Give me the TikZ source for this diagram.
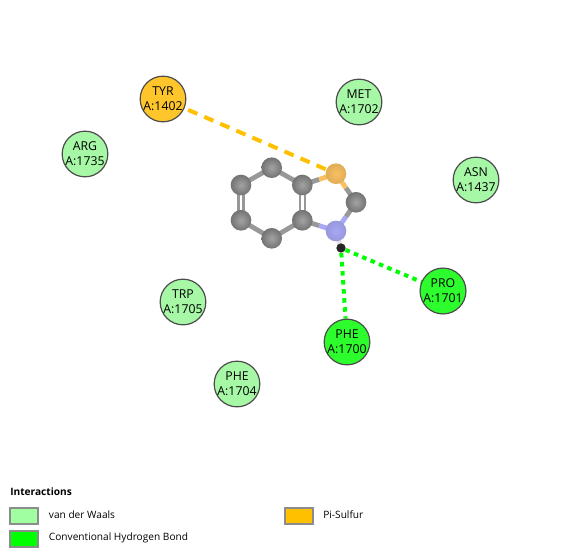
\documentclass[tikz,border=0pt]{standalone}
\usepackage{fontspec}
\setmainfont{Open Sans}
\usetikzlibrary{calc}
\pgfdeclarelayer{bonds}
\pgfsetlayers{bonds,main}
\definecolor{vdw}{HTML}{A6F7A6}
\definecolor{hbond}{HTML}{2DFC2D}
\definecolor{pis}{HTML}{FFC62C}
\definecolor{legvdw}{HTML}{A0FFA0}
\definecolor{leghb}{HTML}{00FF00}
\definecolor{legpi}{HTML}{FFC000}
\definecolor{bondgray}{HTML}{989898}
\definecolor{sulfur}{HTML}{F8C060}
\definecolor{nitro}{HTML}{A8A8F4}
\tikzset{
  x=0.75pt,y=-0.75pt,
  res/.style={circle,draw=black!70,line width=0.9pt,minimum size=33.5pt,inner sep=0pt,align=center,font=\fontsize{9.2}{11.2}\selectfont,text=black},
  atomc/.style={circle,minimum size=15.5pt,inner sep=0pt,inner color=black!36,outer color=black!55},
  atoms/.style={circle,minimum size=15.5pt,inner sep=0pt,inner color=sulfur,outer color=sulfur!90!black},
  atomn/.style={circle,minimum size=15.5pt,inner sep=0pt,inner color=nitro,outer color=nitro!90!black},
  atomh/.style={circle,minimum size=7pt,inner sep=0pt,fill=black!85},
  bondl/.style={line width=3.6pt,draw=bondgray},
  dbl/.style={line width=1.7pt,draw=bondgray},
  dashpi/.style={line width=3pt,draw=legpi,dash pattern=on 7.5pt off 5.6pt},
  dashhb/.style={line width=3pt,draw=leghb,dash pattern=on 3.4pt off 3.4pt},
  swatch/.style={draw=black!45,line width=1.6pt,minimum width=21pt,minimum height=12.4pt,inner sep=0pt},
  legtext/.style={anchor=west,inner sep=0pt,font=\fontsize{7.6}{9}\selectfont},
}
\begin{document}
\begin{tikzpicture}
\useasboundingbox (0,0) rectangle (563,557);
% residues
\node[res,fill=pis] (tyr) at (163,99) {TYR\\A:1402};
\node[res,fill=vdw] (met) at (359,102) {MET\\A:1702};
\node[res,fill=vdw] (arg) at (85,154) {ARG\\A:1735};
\node[res,fill=vdw] (asn) at (476,180) {ASN\\A:1437};
\node[res,fill=vdw] (trp) at (183,302) {TRP\\A:1705};
\node[res,fill=hbond] (phea) at (347,342) {PHE\\A:1700};
\node[res,fill=hbond] (pro) at (443,291) {PRO\\A:1701};
\node[res,fill=vdw] (pheb) at (237,384) {PHE\\A:1704};
% ligand atoms
\node[atomc] (c1) at (271.7,167.7) {};
\node[atomc] (c2) at (241,185) {};
\node[atomc] (c3) at (241,220.3) {};
\node[atomc] (c4) at (271.7,238.3) {};
\node[atomc] (c5) at (302.3,220.3) {};
\node[atomc] (c6) at (302.3,185) {};
\node[atoms] (s) at (336,173.7) {};
\node[atomc] (c7) at (356,202.3) {};
\node[atomn] (n) at (336,231) {};
\node[atomh] (h) at (341,248) {};
\begin{pgfonlayer}{bonds}
  % interactions
  \draw[dashpi,shorten <=3pt] (tyr) -- (s);
  \draw[dashhb] (h) -- (phea);
  \draw[dashhb] (h) -- (pro);
  % bonds
  \draw[bondl] (c1.center) -- (c2.center);
  \draw[bondl] (c3.center) -- (c4.center);
  \draw[bondl] (c4.center) -- (c5.center);
  \draw[bondl] (c6.center) -- (c1.center);
  \draw[dbl] ($(c2.center)+(-2.4,0)$) -- ($(c3.center)+(-2.4,0)$);
  \draw[dbl] ($(c2.center)+(2.4,0)$) -- ($(c3.center)+(2.4,0)$);
  \draw[dbl] ($(c5.center)+(-2.4,0)$) -- ($(c6.center)+(-2.4,0)$);
  \draw[dbl] ($(c5.center)+(2.4,0)$) -- ($(c6.center)+(2.4,0)$);
  \draw[bondl] (c6.center) -- ($(c6.center)!.5!(s.center)$);
  \draw[bondl,draw=sulfur] ($(c6.center)!.5!(s.center)$) -- (s.center);
  \draw[bondl,draw=sulfur] (s.center) -- ($(s.center)!.5!(c7.center)$);
  \draw[bondl] ($(s.center)!.5!(c7.center)$) -- (c7.center);
  \draw[bondl] (c7.center) -- ($(c7.center)!.5!(n.center)$);
  \draw[bondl,draw=nitro] ($(c7.center)!.5!(n.center)$) -- (n.center);
  \draw[bondl,draw=nitro] (n.center) -- ($(n.center)!.5!(c5.center)$);
  \draw[bondl] ($(n.center)!.5!(c5.center)$) -- (c5.center);
  \draw[bondl,draw=nitro] (n.center) -- ($(n.center)!.5!(h.center)$);
  \draw[bondl,draw=black!10] ($(n.center)!.5!(h.center)$) -- (h.center);
\end{pgfonlayer}
% legend
\node[anchor=west,inner sep=0pt,font=\fontsize{7.6}{9}\selectfont\bfseries] (title) at (10,492) {Interactions};
\node[swatch,fill=legvdw] (sw1) at (24,516) {};
\node[swatch,fill=leghb] (sw2) at (24,539) {};
\node[swatch,fill=legpi] (sw3) at (299,516) {};
\node[legtext] (t1) at (48.7,514.5) {van der Waals};
\node[legtext] (t2) at (48.7,537.5) {Conventional Hydrogen Bond};
\node[legtext] (t3) at (323,514.5) {Pi-Sulfur};
\end{tikzpicture}
\end{document}
